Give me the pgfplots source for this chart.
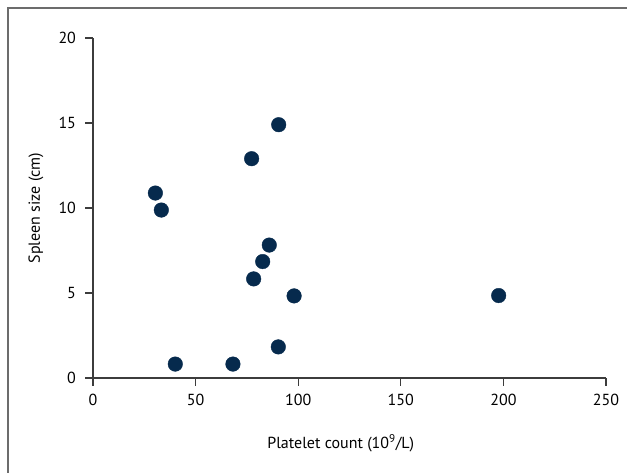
\documentclass[border=0pt]{standalone}
\usepackage{pgfplots}
\pgfplotsset{compat=1.18}
\usepackage{fontspec}
\setmainfont{PT Sans}
\definecolor{dotnavy}{RGB}{6,42,77}
\definecolor{axisgray}{RGB}{60,60,60}
\begin{document}
\begin{tikzpicture}
  \path[use as bounding box] (0pt,0pt) rectangle (627pt,-473pt);
  \draw[gray!85!black, line width=1.4pt] (8pt,-473pt) -- (8pt,-8pt) -- (627pt,-8pt);
  \begin{axis}[
    at={(93pt,-378pt)}, anchor=south west,
    scale only axis, width=513pt, height=340pt,
    xmin=0, xmax=250, ymin=0, ymax=20,
    axis lines=left, axis line style={axisgray, line width=1.1pt, -},
    xtick={0,50,...,250}, ytick={0,5,...,20},
    tick style={axisgray, line width=1.1pt},
    tick align=outside, major tick length=7.5pt,
    xtick pos=bottom, ytick pos=left,
    font=\fontsize{16}{19}\selectfont,
    ticklabel style={font=\fontsize{16}{19}\selectfont},
    /pgf/number format/assume math mode=true,
    xticklabel style={yshift=-5pt},
    yticklabel style={xshift=-6pt},
    xlabel={Platelet count (10\textsuperscript{9}/L)},
    ylabel={Spleen size (cm)},
    xlabel style={at={(axis description cs:0.483,0)}, anchor=center, yshift=-65pt},
    ylabel style={at={(axis description cs:0,0.5)}, anchor=center, yshift=57pt},
    clip=false,
  ]
    \addplot[only marks, mark=*, mark size=7.3pt, mark options={fill=dotnavy, draw=dotnavy}]
      coordinates {
        (30.4,10.88) (33.3,9.88) (77.3,12.9) (90.5,14.9)
        (85.9,7.82) (82.7,6.85) (78.3,5.83) (98.0,4.83)
        (90.3,1.83) (40.1,0.82) (68.2,0.82) (197.7,4.85)
      };
  \end{axis}
\end{tikzpicture}
\end{document}
